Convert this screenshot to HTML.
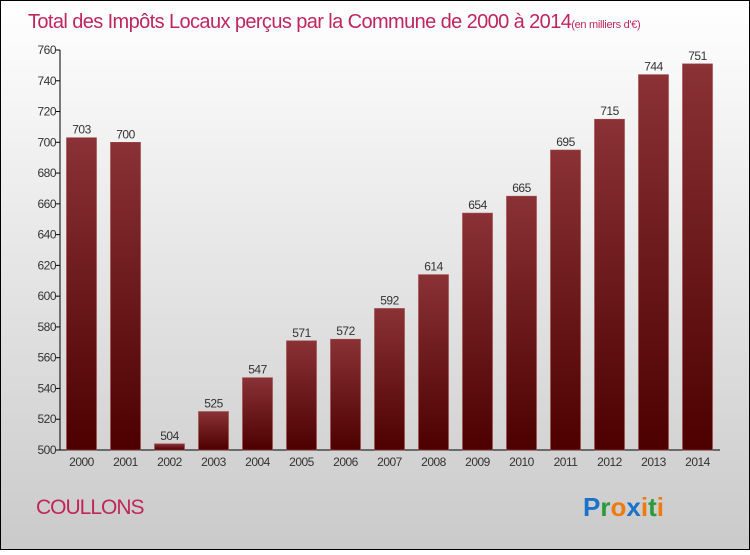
<!DOCTYPE html>
<html><head><meta charset="utf-8"><style>
body{margin:0;width:750px;height:550px;overflow:hidden;font-family:"Liberation Sans",sans-serif}
</style></head><body>
<svg width="750" height="550" xmlns="http://www.w3.org/2000/svg">
<defs>
<linearGradient id="bg" x1="0" y1="0" x2="0" y2="1"><stop offset="0" stop-color="#ffffff"/><stop offset="1" stop-color="#cacaca"/></linearGradient>
<linearGradient id="bar" x1="0" y1="0" x2="0" y2="1"><stop offset="0" stop-color="#8a3236"/><stop offset="1" stop-color="#4d0000"/></linearGradient>
</defs>
<rect x="0.5" y="0.5" width="749" height="549" fill="url(#bg)" stroke="#000"/>
<text x="28" y="28" font-size="20" fill="#c0265a" letter-spacing="-0.6">Total des Impôts Locaux perçus par la Commune de 2000 à 2014<tspan font-size="11" letter-spacing="-0.3">(en milliers d'€)</tspan></text>
<g id="axes"></g>
<g id="bars"></g>
<text x="36" y="514" font-size="21" fill="#c0265a" letter-spacing="-1">COULLONS</text>
<text x="583" y="516" font-size="26" font-weight="bold"><tspan fill="#1a73c9">P</tspan><tspan fill="#2a9a3a">r</tspan><tspan fill="#f07a10">o</tspan><tspan fill="#1a73c9">x</tspan><tspan fill="#f07a10">i</tspan><tspan fill="#2a9a3a">t</tspan><tspan fill="#f07a10">i</tspan></text>
</svg>
<script>
const years=["2000","2001","2002","2003","2004","2005","2006","2007","2008","2009","2010","2011","2012","2013","2014"];
const values=[703,700,504,525,547,571,572,592,614,654,665,695,715,744,751];
const yTicks=[500,520,540,560,580,600,620,640,660,680,700,720,740,760];
const NS="http://www.w3.org/2000/svg";
const x0=60,x1=720,yMin=500,yMax=760,plotTop=50,plotBot=450;
const y=v=>plotBot-(v-yMin)/(yMax-yMin)*(plotBot-plotTop);
const step=(x1-x0)/years.length;
const xc=i=>x0+step*(i+0.5)-0.5;
function mk(t,a,p){const e=document.createElementNS(NS,t);for(const k in a)e.setAttribute(k,a[k]);p.appendChild(e);return e;}
const ax=document.getElementById('axes'),bg=document.getElementById('bars');
let l=mk('line',{x1:x0,y1:plotTop,x2:x0,y2:plotBot,stroke:'#000'},ax);


l=mk('line',{x1:x0,y1:plotBot,x2:x1,y2:plotBot,stroke:'#000'},ax);


yTicks.forEach(v=>{
 const g=mk('line',{x1:x0-4,y1:y(v),x2:x0,y2:y(v),stroke:'#000'},ax);
 
 
 const t=mk('text',{x:x0-4,y:y(v)+4,'text-anchor':'end','font-size':12,fill:'#333','letter-spacing':'-0.5'},ax);
 t.textContent=v;
 
 
});
values.forEach((v,i)=>{
 const r=mk('rect',{x:xc(i)-15,y:y(v),width:30,height:plotBot-y(v),fill:'url(#bar)',stroke:'#a04848','stroke-width':0.6},bg);
 
 
 const t=mk('text',{x:xc(i),y:y(v)-4,'text-anchor':'middle','font-size':12,fill:'#333','letter-spacing':'-0.5'},bg);
 t.textContent=v;
 
 
 const xl=mk('text',{x:xc(i),y:plotBot+16,'text-anchor':'middle','font-size':12,fill:'#333','letter-spacing':'-0.5'},bg);
 xl.textContent=years[i];
 
 
});
</script>
</body></html>
